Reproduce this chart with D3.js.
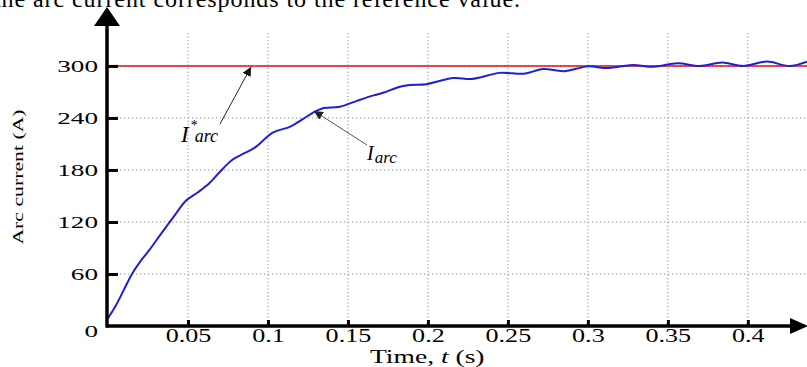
<!DOCTYPE html>
<html>
<head>
<meta charset="utf-8">
<script src="https://cdn.jsdelivr.net/npm/d3@7"></script>
<style>
  body { margin: 0; background: #fff; }
  text { font-family: "Liberation Serif", "Times New Roman", serif; fill: #000; }
</style>
</head>
<body>
<div id="chart"></div>
<script>
// time (s) and arc current (A)
const timeS = [0, 0.005, 0.01, 0.015, 0.02, 0.026, 0.033, 0.041, 0.049, 0.056, 0.063, 0.07, 0.078, 0.085,
  0.092, 0.103, 0.114, 0.122, 0.129, 0.134, 0.145, 0.156, 0.166, 0.172, 0.1825, 0.189, 0.199, 0.216, 0.2275,
  0.245, 0.26, 0.272, 0.285, 0.3, 0.312, 0.328, 0.341, 0.356, 0.37, 0.384, 0.397, 0.412, 0.426, 0.437];
const arcCurrent = [9, 24, 42, 60, 74, 88, 106, 126, 145, 154, 164, 178, 192, 199,
  206, 223, 230, 239, 247, 251, 253, 260, 266, 269, 276, 278, 279, 286, 285,
  292, 291, 296.5, 294, 299.5, 297.5, 301, 299, 303, 300, 304, 300, 305, 300, 305];
const refCurrent = 300;
const xTicks = [0.05, 0.1, 0.15, 0.2, 0.25, 0.3, 0.35, 0.4];
const yTicks = [0, 60, 120, 180, 240, 300];

const width = 807, height = 367;
const x0 = 108, x1 = 807, yBottom = 326, yTop = 33;

const svg = d3.select("#chart").append("svg")
  .attr("width", width)
  .attr("height", height);

const defs = svg.append("defs");
defs.append("marker").attr("id", "headBlack")
  .attr("viewBox", "0 0 10 10").attr("refX", 10).attr("refY", 5)
  .attr("markerWidth", 9).attr("markerHeight", 9).attr("markerUnits", "userSpaceOnUse")
  .attr("orient", "auto")
  .append("path").attr("d", "M0,0L10,5L0,10z").attr("fill", "#111");
defs.append("marker").attr("id", "headGray")
  .attr("viewBox", "0 0 10 10").attr("refX", 10).attr("refY", 5)
  .attr("markerWidth", 9).attr("markerHeight", 9).attr("markerUnits", "userSpaceOnUse")
  .attr("orient", "auto")
  .append("path").attr("d", "M0,0L10,5L0,10z").attr("fill", "#222");

const x = d3.scaleLinear().domain([0, 0.437]).range([x0, x1]);
const y = d3.scaleLinear().domain([0, 338]).range([yBottom, yTop]);

// header text (cropped in the source)
svg.append("text")
  .attr("x", -6).attr("y", 7)
  .attr("textLength", 526)
  .style("font-size", "24px")
  .text("the arc current corresponds to the reference value.");

// dotted grid
svg.append("g").selectAll("line")
  .data(xTicks).enter().append("line")
  .attr("x1", d => x(d)).attr("x2", d => x(d))
  .attr("y1", yTop).attr("y2", yBottom)
  .attr("stroke", "#8a8a8a").attr("stroke-width", 1)
  .attr("stroke-dasharray", "1.2,2.3");
svg.append("g").selectAll("line")
  .data(yTicks.filter(d => d > 0)).enter().append("line")
  .attr("x1", x0).attr("x2", x1)
  .attr("y1", d => y(d)).attr("y2", d => y(d))
  .attr("stroke", "#8a8a8a").attr("stroke-width", 1)
  .attr("stroke-dasharray", "1.2,2.8");

// reference line
svg.append("line")
  .attr("x1", x0).attr("x2", x1)
  .attr("y1", y(refCurrent)).attr("y2", y(refCurrent))
  .attr("stroke", "#e01010").attr("stroke-width", 1.5);

// measured arc current
const line = d3.line()
  .x(d => x(d[0]))
  .y(d => y(d[1]))
  .curve(d3.curveCatmullRom);
svg.append("path")
  .datum(d3.zip(timeS, arcCurrent))
  .attr("d", line)
  .attr("fill", "none")
  .attr("stroke", "#1f1fd6")
  .attr("stroke-width", 2);

// x axis
const xAxis = svg.append("g")
  .attr("transform", "translate(0," + yBottom + ")")
  .call(d3.axisBottom(x).tickValues(xTicks).tickSize(-6).tickFormat(d3.format("")));
xAxis.select(".domain").remove();
xAxis.selectAll(".tick line").attr("stroke", "#000").attr("stroke-width", 3);
xAxis.selectAll(".tick text")
  .attr("y", 16).attr("dy", 0)
  .attr("transform", "scale(1.45,1)")
  .style("font-size", "18px").attr("font-family", null);

// y axis
const yAxis = svg.append("g")
  .attr("transform", "translate(" + (x0 - 1) + ",0)")
  .call(d3.axisLeft(y).tickValues(yTicks).tickSize(-11));
yAxis.select(".domain").remove();
yAxis.selectAll(".tick line").attr("stroke", "#000").attr("stroke-width", 3);
yAxis.selectAll(".tick text")
  .attr("x", -9 / 1.6)
  .attr("dy", d => d === 0 ? "0.62em" : "0.33em")
  .attr("transform", "scale(1.6,1)")
  .style("font-size", "17px").attr("font-family", null);
yAxis.selectAll(".tick").filter(d => d === 0).select("line").remove();

// axis lines with arrows
svg.append("line")
  .attr("x1", x0 - 1).attr("x2", x0 - 1)
  .attr("y1", yBottom + 1.5).attr("y2", 25)
  .attr("stroke", "#000").attr("stroke-width", 3.5);
svg.append("path")
  .attr("d", `M${x0 - 14},26L${x0 - 1},7L${x0 + 12},26Z`)
  .attr("fill", "#000");
svg.append("line")
  .attr("x1", x0 - 2).attr("x2", 792)
  .attr("y1", yBottom).attr("y2", yBottom)
  .attr("stroke", "#000").attr("stroke-width", 3.5);
svg.append("path")
  .attr("d", `M790,${yBottom - 8}L808,${yBottom}L790,${yBottom + 8}Z`)
  .attr("fill", "#000");

// axis titles
svg.append("text")
  .attr("transform", "translate(370,363) scale(1.45,1)")
  .style("font-size", "19px")
  .call(t => {
    t.append("tspan").text("Time, ");
    t.append("tspan").style("font-style", "italic").text("t");
    t.append("tspan").text(" (s)");
  });
svg.append("text")
  .attr("transform", "translate(23,177) rotate(-90) scale(1.45,1)")
  .attr("text-anchor", "middle")
  .style("font-size", "15px")
  .text("Arc current (A)");

// annotations
svg.append("line")
  .attr("x1", 220).attr("y1", 124).attr("x2", 251).attr("y2", 67)
  .attr("stroke", "#222").attr("stroke-width", 1)
  .attr("marker-end", "url(#headBlack)");
svg.append("text")
  .attr("x", 181).attr("y", 142)
  .style("font-style", "italic")
  .call(t => {
    t.append("tspan").style("font-size", "23px").text("I");
    t.append("tspan").attr("dx", 2).attr("dy", -12).style("font-size", "14px").style("font-style", "normal").text("*");
    t.append("tspan").attr("dx", -3).attr("dy", 12).style("font-size", "18px").text("arc");
  });

svg.append("line")
  .attr("x1", 367).attr("y1", 145).attr("x2", 314).attr("y2", 111)
  .attr("stroke", "#555").attr("stroke-width", 1)
  .attr("marker-end", "url(#headGray)");
svg.append("text")
  .attr("x", 367).attr("y", 160)
  .style("font-style", "italic")
  .call(t => {
    t.append("tspan").style("font-size", "20px").text("I");
    t.append("tspan").attr("dx", 1).attr("dy", 3).style("font-size", "17px").text("arc");
  });
</script>
</body>
</html>
